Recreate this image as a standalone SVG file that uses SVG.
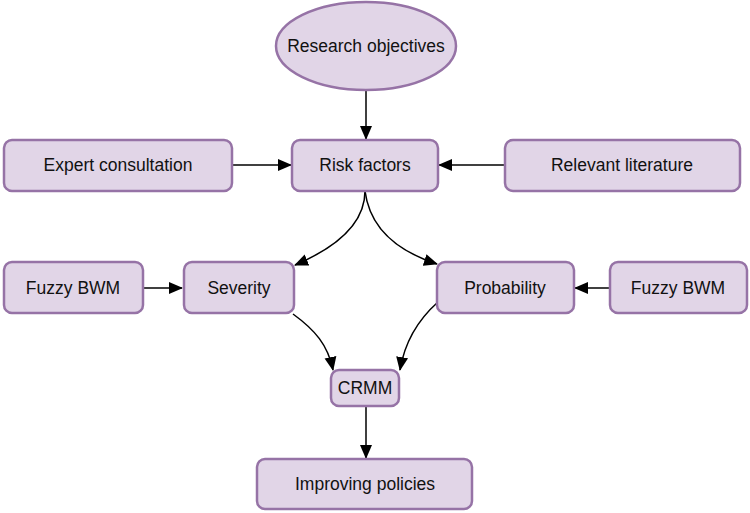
<svg xmlns="http://www.w3.org/2000/svg" width="750" height="513" viewBox="0 0 750 513">
<style>
.n{fill:#e1d5e7;stroke:#9673a6;stroke-width:2.5}
.t{font-family:"Liberation Sans",Arial,sans-serif;font-size:17.5px;fill:#111;text-anchor:middle;dominant-baseline:central}
.c{fill:none;stroke:#000;stroke-width:1.5;marker-end:url(#a)}
</style>
<defs>
<marker id="a" markerUnits="userSpaceOnUse" markerWidth="14" markerHeight="13" refX="13" refY="6" orient="auto" viewBox="0 0 14 12">
<path d="M0,0 L14,6 L0,12 Z" fill="#000"/>
</marker>
</defs>
<rect width="750" height="513" fill="#fff"/>
<g id="connectors">
<path class="c" d="M366,90 L366,139"/>
<path class="c" d="M232,165 L291,165"/>
<path class="c" d="M505,165 L439,165"/>
<path class="c" d="M365,191 C365,225 335,248 295,265"/>
<path class="c" d="M365,191 C370,230 400,252 437,264"/>
<path class="c" d="M143,288 L182,288"/>
<path class="c" d="M609,288 L575,288"/>
<path class="c" d="M293,314 C315,330 328,345 333,370"/>
<path class="c" d="M438,302 C420,318 405,340 400,370"/>
<path class="c" d="M366,407 L366,458"/>
</g>
<g id="research"><ellipse class="n" cx="366" cy="46" rx="90" ry="44"/><text class="t" x="366" y="46">Research objectives</text></g>
<g id="expert"><rect class="n" x="4" y="140" width="228" height="51" rx="8"/><text class="t" x="118" y="165">Expert consultation</text></g>
<g id="risk"><rect class="n" x="292" y="140" width="146" height="51" rx="8"/><text class="t" x="365" y="165">Risk factors</text></g>
<g id="literature"><rect class="n" x="505" y="140" width="235" height="51" rx="8"/><text class="t" x="622" y="165">Relevant literature</text></g>
<g id="fuzzy1"><rect class="n" x="4" y="262" width="139" height="51" rx="8"/><text class="t" x="73" y="288">Fuzzy BWM</text></g>
<g id="severity"><rect class="n" x="184" y="262" width="110" height="51" rx="8"/><text class="t" x="239" y="288">Severity</text></g>
<g id="probability"><rect class="n" x="437" y="262" width="137" height="51" rx="8"/><text class="t" x="505" y="288">Probability</text></g>
<g id="fuzzy2"><rect class="n" x="610" y="262" width="137" height="51" rx="8"/><text class="t" x="678" y="288">Fuzzy BWM</text></g>
<g id="crmm"><rect class="n" x="331" y="370" width="68" height="36" rx="8"/><text class="t" x="365" y="388">CRMM</text></g>
<g id="improving"><rect class="n" x="257" y="459" width="215" height="50" rx="8"/><text class="t" x="365" y="484">Improving policies</text></g>
</svg>
